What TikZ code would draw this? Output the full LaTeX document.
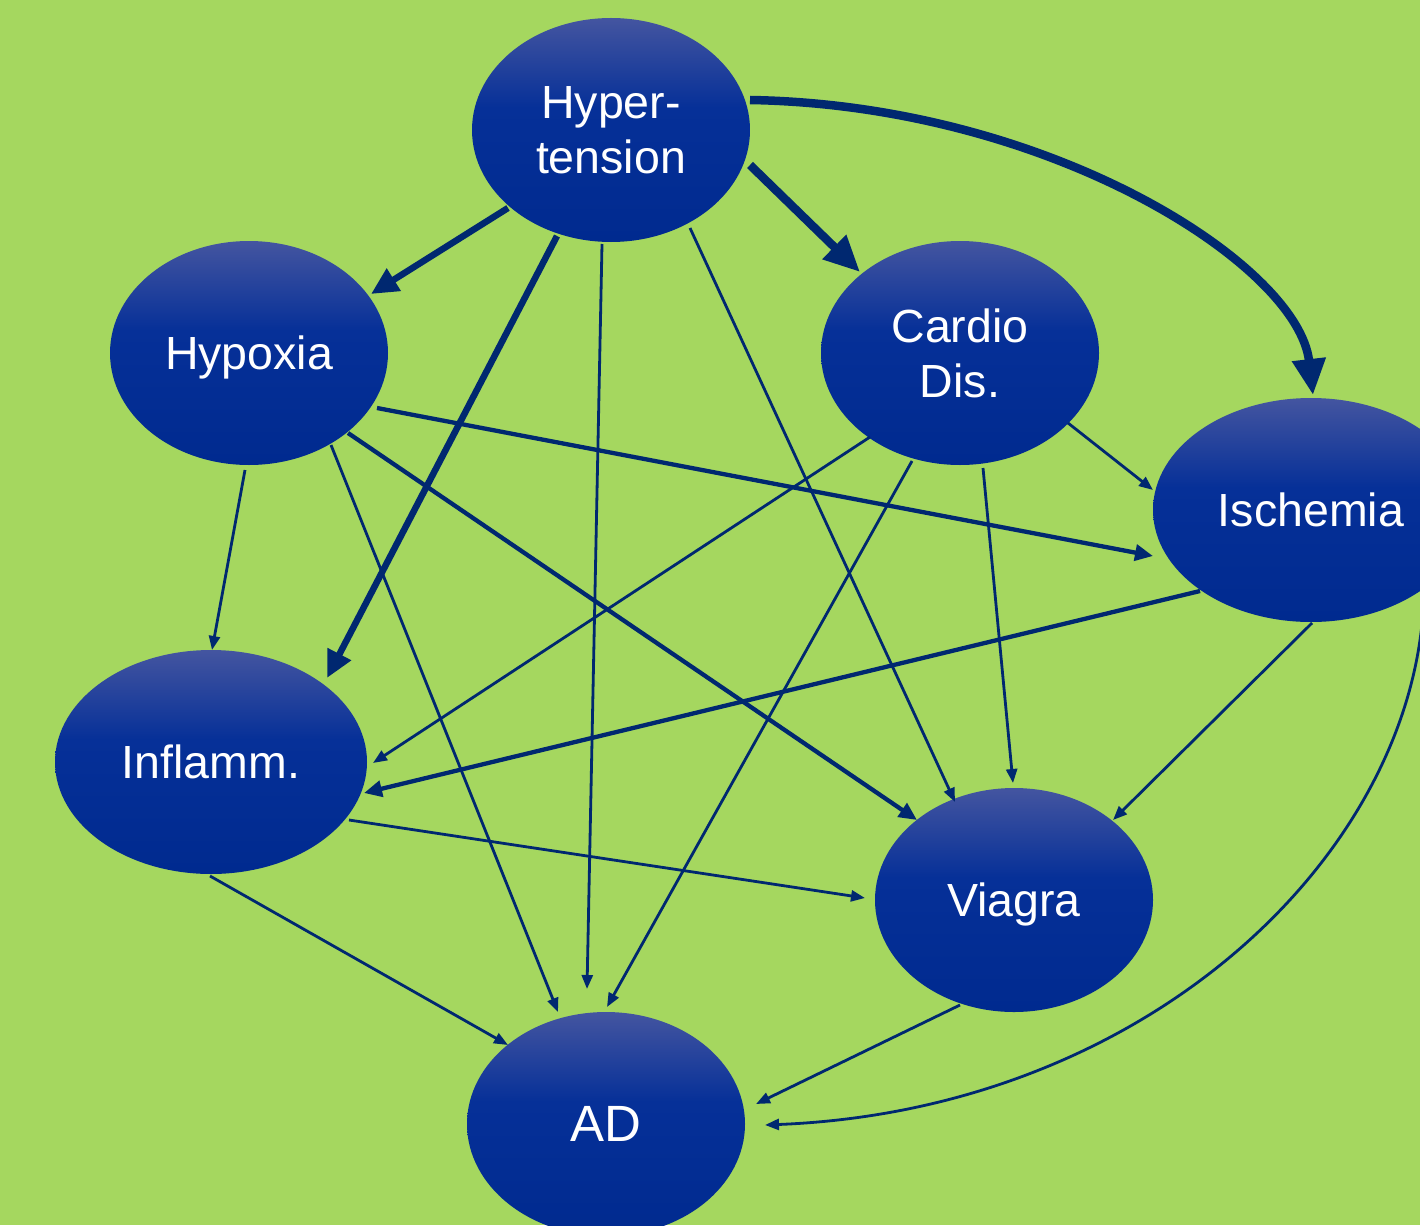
\documentclass[tikz,border=0pt]{standalone}
\usepackage{fontspec}
\setmainfont{Liberation Sans}
\usetikzlibrary{arrows.meta,shapes.geometric}
\definecolor{bg}{RGB}{165,215,95}
\definecolor{edgecol}{RGB}{0,40,112}
\definecolor{elltop}{RGB}{68,85,160}
\definecolor{ellmid}{RGB}{6,48,152}
\definecolor{ellbot}{RGB}{0,42,143}
\pgfdeclareverticalshading{ellshade}{100bp}{color(0bp)=(ellbot); color(25bp)=(ellbot); color(55bp)=(ellmid); color(75bp)=(elltop); color(100bp)=(elltop)}
\begin{document}
\begin{tikzpicture}[x=1pt,y=-1pt,
  ell/.style={ellipse, inner sep=0pt, minimum width=278pt, minimum height=224pt,
    shading=ellshade, draw=none,
    text=white, font=\fontsize{46.5}{55}\selectfont, align=center},
  oneline/.style={text depth=0pt},
  edgethin/.style={edgecol, line width=2.8pt, -{Triangle[length=14pt,width=11pt]}},
  edgemed/.style={edgecol, line width=4.3pt, -{Triangle[length=18pt,width=16pt]}},
  edgeheavy/.style={edgecol, line width=6.5pt, -{Triangle[length=27pt,width=25pt]}},
  edgebold/.style={edgecol, line width=8.5pt, -{Triangle[length=36pt,width=32pt]}}]
\useasboundingbox (0,0) rectangle (1420,1225);
\clip (0,0) rectangle (1420,1225);
\fill[bg] (0,0) rectangle (1420,1225);

\node[ell] (ht) at (611,130) {Hyper-\\tension};
\node[ell,oneline] (hx) at (249,353) {Hypoxia};
\node[ell] (cd) at (960,353) {Cardio\\Dis.};
\node[ell,oneline,minimum width=316pt] (is) at (1311,510) {Ischemia};
\node[ell,oneline,minimum width=312pt] (in) at (211,762) {Inflamm.};
\node[ell,oneline] (vi) at (1014,900) {Viagra};
\node[ell,oneline,font=\fontsize{51}{60}\selectfont] (ad) at (606,1124) {AD};

% bold arrows from Hypertension
\draw[edgebold] ([shift={(139,-30)}]ht.center) .. controls +(300,5) and +(-15,-130) .. ([shift={(2,-115)}]is.center);
\draw[edgebold] ([shift={(139,35)}]ht.center) -- ([shift={(-100,-81)}]cd.center);
\draw[edgeheavy] ([shift={(-103,78)}]ht.center) -- ([shift={(122,-59)}]hx.center);
\draw[edgeheavy] ([shift={(-54,106)}]ht.center) -- ([shift={(116,-84)}]in.center);

% medium arrows
\draw[edgemed] ([shift={(128,55)}]hx.center) -- ([shift={(-158,46)}]is.center);
\draw[edgemed] ([shift={(99,80)}]hx.center) -- ([shift={(-97,-80)}]vi.center);
\draw[edgemed] ([shift={(-111,81)}]is.center) -- ([shift={(153,31)}]in.center);

% thin arrows
\draw[edgethin] ([shift={(-9,114)}]ht.center) -- ([shift={(-19,-135)}]ad.center);
\draw[edgethin] ([shift={(79,98)}]ht.center) -- ([shift={(-59,-98)}]vi.center);
\draw[edgethin] ([shift={(-4,117)}]hx.center) -- ([shift={(1,-112)}]in.center);
\draw[edgethin] ([shift={(82,92)}]hx.center) -- ([shift={(-48,-112)}]ad.center);
\draw[edgethin] ([shift={(-90,84)}]cd.center) -- ([shift={(162,1)}]in.center);
\draw[edgethin] ([shift={(108,70)}]cd.center) -- ([shift={(-158,-20)}]is.center);
\draw[edgethin] ([shift={(-48,108)}]cd.center) -- ([shift={(1,-117)}]ad.center);
\draw[edgethin] ([shift={(23,115)}]cd.center) -- ([shift={(-1,-117)}]vi.center);
\draw[edgethin] ([shift={(1,113)}]is.center) -- ([shift={(99,-80)}]vi.center);
\draw[edgethin] ([shift={(113,80)}]is.center) .. controls +(-4,260) and +(385,-15) .. ([shift={(159,1)}]ad.center);
\draw[edgethin] ([shift={(138,58)}]in.center) -- ([shift={(-149,-2)}]vi.center);
\draw[edgethin] ([shift={(-1,114)}]in.center) -- ([shift={(-98,-79)}]ad.center);
\draw[edgethin] ([shift={(-54,105)}]vi.center) -- ([shift={(150,-20)}]ad.center);
\end{tikzpicture}
\end{document}
